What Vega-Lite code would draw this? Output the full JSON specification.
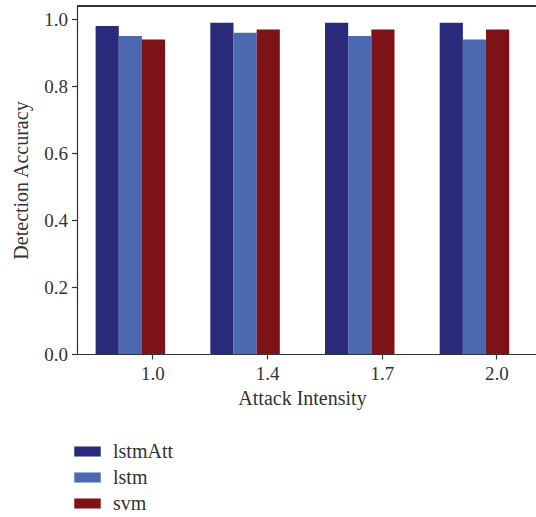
{
  "$schema": "https://vega.github.io/schema/vega-lite/v6.json",
  "width": 459,
  "height": 348,
  "autosize": "none",
  "padding": {"left": 77, "top": 6, "right": 0, "bottom": 163},
  "config": {
    "font": "Liberation Serif",
    "view": {"stroke": null},
    "axis": {"labelFont": "Liberation Serif", "titleFont": "Liberation Serif", "labelColor": "#333", "titleColor": "#333", "titleFontWeight": "normal", "domainColor": "#333", "tickColor": "#333", "grid": false}
  },
  "data": {
    "values": [
      {"intensity": "1.0", "model": "lstmAtt", "acc": 0.98},
      {"intensity": "1.0", "model": "lstm", "acc": 0.95},
      {"intensity": "1.0", "model": "svm", "acc": 0.94},
      {"intensity": "1.4", "model": "lstmAtt", "acc": 0.99},
      {"intensity": "1.4", "model": "lstm", "acc": 0.96},
      {"intensity": "1.4", "model": "svm", "acc": 0.97},
      {"intensity": "1.7", "model": "lstmAtt", "acc": 0.99},
      {"intensity": "1.7", "model": "lstm", "acc": 0.95},
      {"intensity": "1.7", "model": "svm", "acc": 0.97},
      {"intensity": "2.0", "model": "lstmAtt", "acc": 0.99},
      {"intensity": "2.0", "model": "lstm", "acc": 0.94},
      {"intensity": "2.0", "model": "svm", "acc": 0.97}
    ]
  },
  "layer": [
    {
      "mark": {"type": "bar"},
      "encoding": {
        "x": {
          "field": "intensity", "type": "nominal",
          "scale": {"paddingInner": 0.394, "paddingOuter": 0.198, "align": 0.41},
          "axis": {"title": "Attack Intensity", "labelAngle": 0, "labelFontSize": 19, "titleFontSize": 20, "tickOffset": 22, "tickSize": 5, "labelPadding": 5, "titlePadding": 5, "titleX": 225, "domainWidth": 1.2, "tickWidth": 1.2}
        },
        "xOffset": {"field": "model", "type": "nominal", "sort": ["lstmAtt", "lstm", "svm"], "scale": {"paddingInner": 0, "paddingOuter": 0}},
        "y": {
          "field": "acc", "type": "quantitative",
          "scale": {"domain": [0, 1.04], "nice": false},
          "axis": {"title": "Detection Accuracy", "values": [0, 0.2, 0.4, 0.6, 0.8, 1.0], "format": ".1f", "labelFontSize": 19, "titleFontSize": 20, "tickSize": 5.5, "labelPadding": 4, "titlePadding": 12, "domainWidth": 1.2, "tickWidth": 1.2}
        },
        "color": {
          "field": "model", "type": "nominal",
          "sort": ["lstmAtt", "lstm", "svm"],
          "scale": {"domain": ["lstmAtt", "lstm", "svm"], "range": ["#2A2A7B", "#4B69B1", "#7E1317"]},
          "legend": {
            "title": null, "orient": "none", "legendX": -3, "legendY": 432,
            "symbolType": "M-1,-0.38H1V0.38H-1Z", "symbolSize": 700, "symbolStrokeWidth": 0, "symbolOpacity": 1,
            "labelFontSize": 20, "labelFont": "Liberation Serif", "labelColor": "#333", "labelOffset": 12, "rowPadding": 2, "padding": 0
          }
        }
      }
    },
    {
      "mark": {"type": "rule", "color": "#333", "strokeWidth": 1.5},
      "encoding": {"y": {"datum": 1.04}}
    }
  ]
}
